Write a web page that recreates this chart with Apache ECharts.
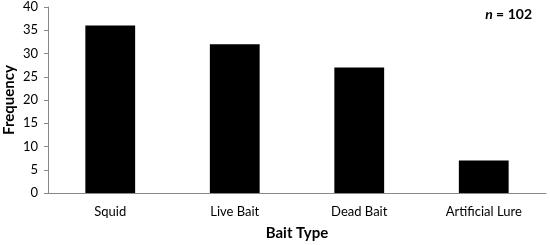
<!DOCTYPE html>
<html>
<head>
<meta charset="utf-8">
<script src="https://cdn.jsdelivr.net/npm/echarts@6/dist/echarts.min.js"></script>
<style>
  html, body { margin: 0; padding: 0; background: #fff; }
  #chart { width: 550px; height: 245px; }
</style>
</head>
<body>
<div id="chart"></div>
<script>
const categories = ['Squid', 'Live Bait', 'Dead Bait', 'Artificial Lure'];
const frequency = [36, 32, 27, 7];
const sampleSize = 102;

const font = 'Lato, "Open Sans", sans-serif';
const chart = echarts.init(document.getElementById('chart'));

chart.setOption({
  animation: false,
  grid: { left: 48, right: 4, top: 7, bottom: 52, containLabel: false, outerBoundsMode: 'none' },
  title: {
    text: '{i|n} = ' + sampleSize,
    right: 13,
    top: 2,
    textStyle: {
      fontFamily: font, fontSize: 14, fontWeight: 'bold', color: '#000',
      rich: { i: { fontStyle: 'italic', fontWeight: 'bold', fontSize: 14, fontFamily: font, color: '#000' } }
    }
  },
  xAxis: {
    type: 'category',
    data: categories,
    name: 'Bait Type',
    nameLocation: 'middle',
    nameGap: 33,
    nameMoveOverlap: false,
    nameTextStyle: { fontFamily: font, fontSize: 15, fontWeight: 'bold', color: '#000' },
    axisLine: { lineStyle: { color: '#888', width: 1 } },
    axisTick: { show: false },
    axisLabel: { fontFamily: font, fontSize: 13, color: '#000', margin: 12 }
  },
  yAxis: {
    type: 'value',
    min: 0, max: 40, interval: 5,
    name: 'Frequency',
    nameLocation: 'middle',
    nameGap: 31,
    nameMoveOverlap: false,
    nameTextStyle: { fontFamily: font, fontSize: 15, fontWeight: 'bold', color: '#000' },
    axisLine: { show: true, lineStyle: { color: '#888', width: 1 } },
    axisTick: { show: true, length: 4, lineStyle: { color: '#888' } },
    splitLine: { show: false },
    axisLabel: { fontFamily: font, fontSize: 13, color: '#000', margin: 10 }
  },
  series: [{
    type: 'bar',
    data: frequency,
    barWidth: '40%',
    itemStyle: { color: '#000' }
  }]
});
</script>
</body>
</html>
